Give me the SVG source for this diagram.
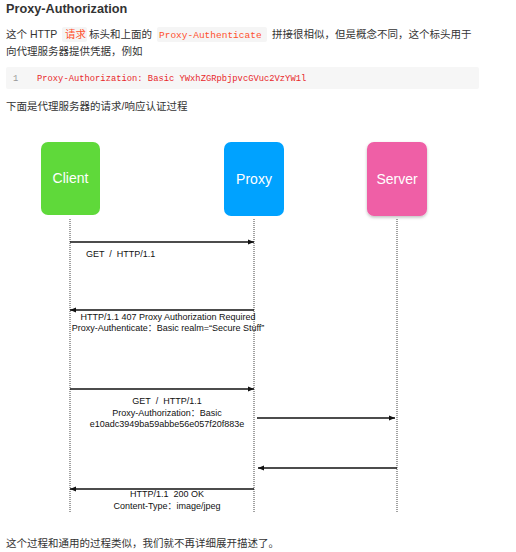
<svg xmlns="http://www.w3.org/2000/svg" width="516" height="552" viewBox="0 0 516 552">
<defs>
<marker id="ah" viewBox="0 0 10 10" refX="10" refY="5" markerWidth="6" markerHeight="6" markerUnits="userSpaceOnUse" orient="auto">
<path d="M0,1 L10,5 L0,9 z" fill="#111"/>
</marker>
<filter id="sh" x="-20%" y="-20%" width="140%" height="140%">
<feDropShadow dx="0" dy="1.5" stdDeviation="1.5" flood-color="#000" flood-opacity="0.25"/>
</filter>
<style>
.t{font-family:"Liberation Sans","Noto Sans CJK SC",sans-serif;fill:#333;font-size:10.5px}
.h{font-family:"Liberation Sans","Noto Sans CJK SC",sans-serif;fill:#333;font-size:12.7px;font-weight:bold}
.ic{font-family:"Liberation Mono","Noto Sans CJK SC",monospace;fill:#ff502c;font-size:9.5px}
.icb{fill:#f5f5f5}
.code{font-family:"Liberation Mono",monospace;fill:#e8282b;font-size:8.8px}
.ln{font-family:"Liberation Mono",monospace;fill:#999;font-size:8.8px}
.nl{font-family:"Liberation Sans",sans-serif;fill:#fff;font-size:14px;text-anchor:middle}
.lbl{font-family:"Liberation Sans","Noto Sans CJK SC",sans-serif;fill:#111;font-size:9px;white-space:pre}
.life{stroke:#444;stroke-width:1;stroke-dasharray:1,1;fill:none}
.msg{stroke:#111;stroke-width:1.3;fill:none;marker-end:url(#ah)}
</style>
</defs>
<rect width="516" height="552" fill="#fff"/>
<g id="article">
<text class="h" x="6" y="13">Proxy-Authorization</text>
<rect class="icb" x="62" y="27" width="25" height="15" rx="2"/>
<rect class="icb" x="157" y="27" width="110" height="15" rx="2"/>
<text class="t" x="6" y="38">这个 HTTP</text>
<text class="ic" x="65" y="38" style="font-size:10.5px">请求</text>
<text class="t" x="89" y="38">标头和上面的</text>
<text class="ic" x="159" y="38">Proxy-Authenticate</text>
<text class="t" x="272" y="38">拼接很相似，但是概念不同，这个标头用于</text>
<text class="t" x="6" y="55">向代理服务器提供凭据，例如</text>
<rect x="6" y="67" width="473" height="22" rx="2" fill="#f6f6f6"/>
<text class="ln" x="13" y="81">1</text>
<text class="code" x="37" y="81">Proxy-Authorization: Basic YWxhZGRpbjpvcGVuc2VzYW1l</text>
<text class="t" x="6" y="110">下面是代理服务器的请求/响应认证过程</text>
<text class="t" x="6" y="547">这个过程和通用的过程类似，我们就不再详细展开描述了。</text>
</g>
<g id="client">
<rect x="41" y="142" width="59" height="73" rx="7" fill="#5fd93a"/>
<text class="nl" x="70.5" y="183">Client</text>
</g>
<g id="proxy">
<rect x="224" y="142" width="60" height="74" rx="7" fill="#00a2ff"/>
<text class="nl" x="254" y="184">Proxy</text>
</g>
<g id="server">
<rect x="367" y="142" width="60" height="74" rx="7" fill="#ef5ea6" filter="url(#sh)"/>
<text class="nl" x="397" y="184">Server</text>
</g>
<g id="connectors">
<line class="life" x1="70" y1="219" x2="70" y2="513"/>
<line class="life" x1="254" y1="219" x2="254" y2="513"/>
<line class="life" x1="397" y1="219" x2="397" y2="513"/>
<line class="msg" x1="70" y1="242" x2="254" y2="242"/>
<line class="msg" x1="254" y1="310" x2="70" y2="310"/>
<line class="msg" x1="70" y1="389" x2="254" y2="389"/>
<line class="msg" x1="257" y1="418" x2="395" y2="418"/>
<line class="msg" x1="397" y1="468" x2="258" y2="468"/>
<line class="msg" x1="254" y1="489" x2="70" y2="489"/>
</g>
<g id="labels">
<text class="lbl" x="86" y="257">GET  /  HTTP/1.1</text>
<text class="lbl" x="168" y="320" text-anchor="middle">HTTP/1.1 407 Proxy Authorization Required</text>
<text class="lbl" x="168" y="331" text-anchor="middle">Proxy-Authenticate：Basic realm=“Secure Stuff”</text>
<text class="lbl" x="167" y="404" text-anchor="middle">GET  /  HTTP/1.1</text>
<text class="lbl" x="167" y="415.5" text-anchor="middle">Proxy-Authorization：Basic</text>
<text class="lbl" x="167" y="427" text-anchor="middle">e10adc3949ba59abbe56e057f20f883e</text>
<text class="lbl" x="167" y="497" text-anchor="middle">HTTP/1.1  200 OK</text>
<text class="lbl" x="167" y="509" text-anchor="middle">Content-Type：image/jpeg</text>
</g>
</svg>
